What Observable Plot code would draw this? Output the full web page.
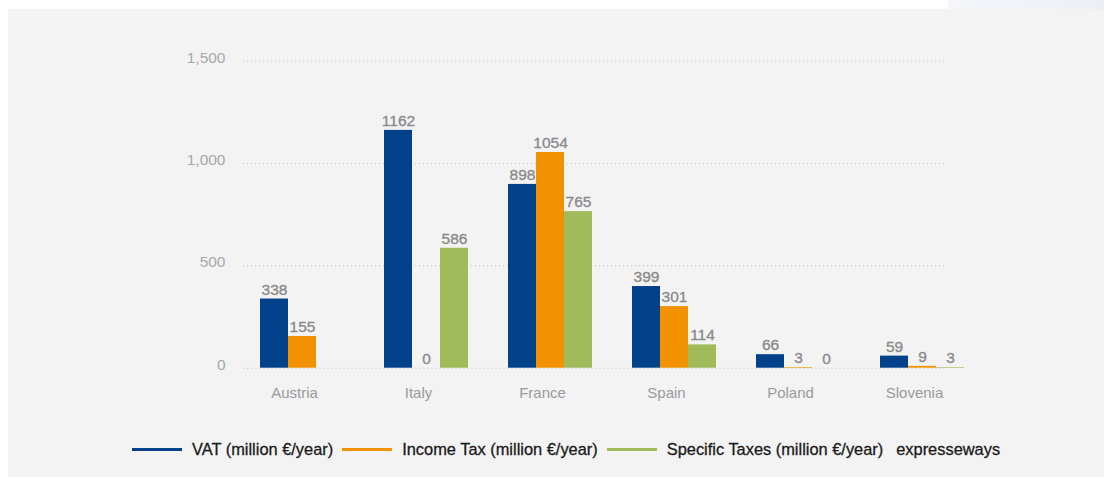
<!DOCTYPE html>
<html>
<head>
<meta charset="utf-8">
<script src="https://cdn.jsdelivr.net/npm/d3@7"></script>
<script src="https://cdn.jsdelivr.net/npm/@observablehq/plot@0.6"></script>
<style>
  html, body { margin: 0; padding: 0; background: #ffffff; width: 1104px; height: 477px; overflow: hidden; }
  #panel { position: absolute; left: 8px; top: 9px; width: 1096px; height: 468px; background: #f3f3f3; }
  #corner { position: absolute; left: 948px; top: 0; width: 156px; height: 9px; background: linear-gradient(to right, #f4f6f9, #ebeff5); }
  #wrap { position: relative; }
  #legend { display: flex; align-items: center; height: 20px; margin-top: 19.5px; padding-left: 132px;
    font-family: "Liberation Sans", Arial, sans-serif; font-size: 16.4px; color: #1a1a1a; -webkit-text-stroke: 0.3px #1a1a1a; white-space: nowrap; }
  .sw { width: 50px; height: 3px; margin-right: 10px; }
  .lab { margin-right: 9px; }
  .extra { margin-left: 4px; }
</style>
</head>
<body>
<div id="panel"></div>
<div id="corner"></div>
<div id="wrap">
  <div id="chart"></div>
  <div id="legend"></div>
</div>
<script>
// ---- data ----
const countries = ["Austria", "Italy", "France", "Spain", "Poland", "Slovenia"];
const vat = [338, 1162, 898, 399, 66, 59];
const incomeTax = [155, 0, 1054, 301, 3, 9];
const specificTaxes = [null, 586, 765, 114, 0, 3];
const seriesNames = ["VAT (million €/year)", "Income Tax (million €/year)", "Specific Taxes (million €/year)"];
const seriesColors = ["#00418a", "#f39200", "#a1bb5a"];
const legendExtra = "expresseways";
const yTicks = [0, 500, 1000, 1500];

const seriesValues = [vat, incomeTax, specificTaxes];
const rows = seriesValues.map((vals) =>
  countries.map((c, i) => ({country: c, value: vals[i]})).filter(d => d.value != null)
);

// per-series placement inside each country band (three equal thirds)
const third = 28;
const insets = [
  {insetLeft: 0, insetRight: 2 * third},
  {insetLeft: third, insetRight: third},
  {insetLeft: 2 * third, insetRight: 0}
];
const offsets = [-third, 0, third];

const marks = [
  Plot.gridY(yTicks, {stroke: "#c6c6c6", strokeOpacity: 1, strokeDasharray: "1.2,2.8"}),
  Plot.axisY(yTicks, {tickSize: 0, tickPadding: 18, tickFormat: d3.format(","), fill: "#a8a8a8", dy: -3.5, label: null, fontSize: 15.5}),
  Plot.axisX({tickSize: 0, tickPadding: 19.5, fill: "#9a9a9a", dx: -8, label: null, fontSize: 15})
];
rows.forEach((data, s) => {
  marks.push(Plot.barY(data, {x: "country", y: "value", fill: seriesColors[s], ...insets[s]}));
});
rows.forEach((data, s) => {
  marks.push(Plot.text(data, {x: "country", y: "value", text: d => String(d.value), dx: offsets[s], dy: -4.5,
    lineAnchor: "bottom", fill: "#8a8a8a", stroke: "#8a8a8a", strokeWidth: 0.35, fontSize: 15.5}));
});

const chart = Plot.plot({
  width: 1104,
  height: 420,
  marginLeft: 243,
  marginRight: 159,
  marginTop: 60.7,
  marginBottom: 52.3,
  style: {background: "transparent", fontFamily: "'Liberation Sans', Arial, sans-serif", fontSize: "15.5px", overflow: "visible"},
  x: {domain: countries, range: [260, 964], paddingInner: 40 / 124, paddingOuter: 0, label: null},
  y: {domain: [0, 1500], label: null},
  marks
});
document.getElementById("chart").appendChild(chart);

// ---- legend ----
const legend = document.getElementById("legend");
seriesNames.forEach((name, i) => {
  const sw = document.createElement("div");
  sw.className = "sw";
  sw.style.background = seriesColors[i];
  legend.appendChild(sw);
  const lab = document.createElement("span");
  lab.className = "lab";
  lab.textContent = name;
  legend.appendChild(lab);
});
const extra = document.createElement("span");
extra.className = "extra";
extra.textContent = legendExtra;
legend.appendChild(extra);
</script>
</body>
</html>
